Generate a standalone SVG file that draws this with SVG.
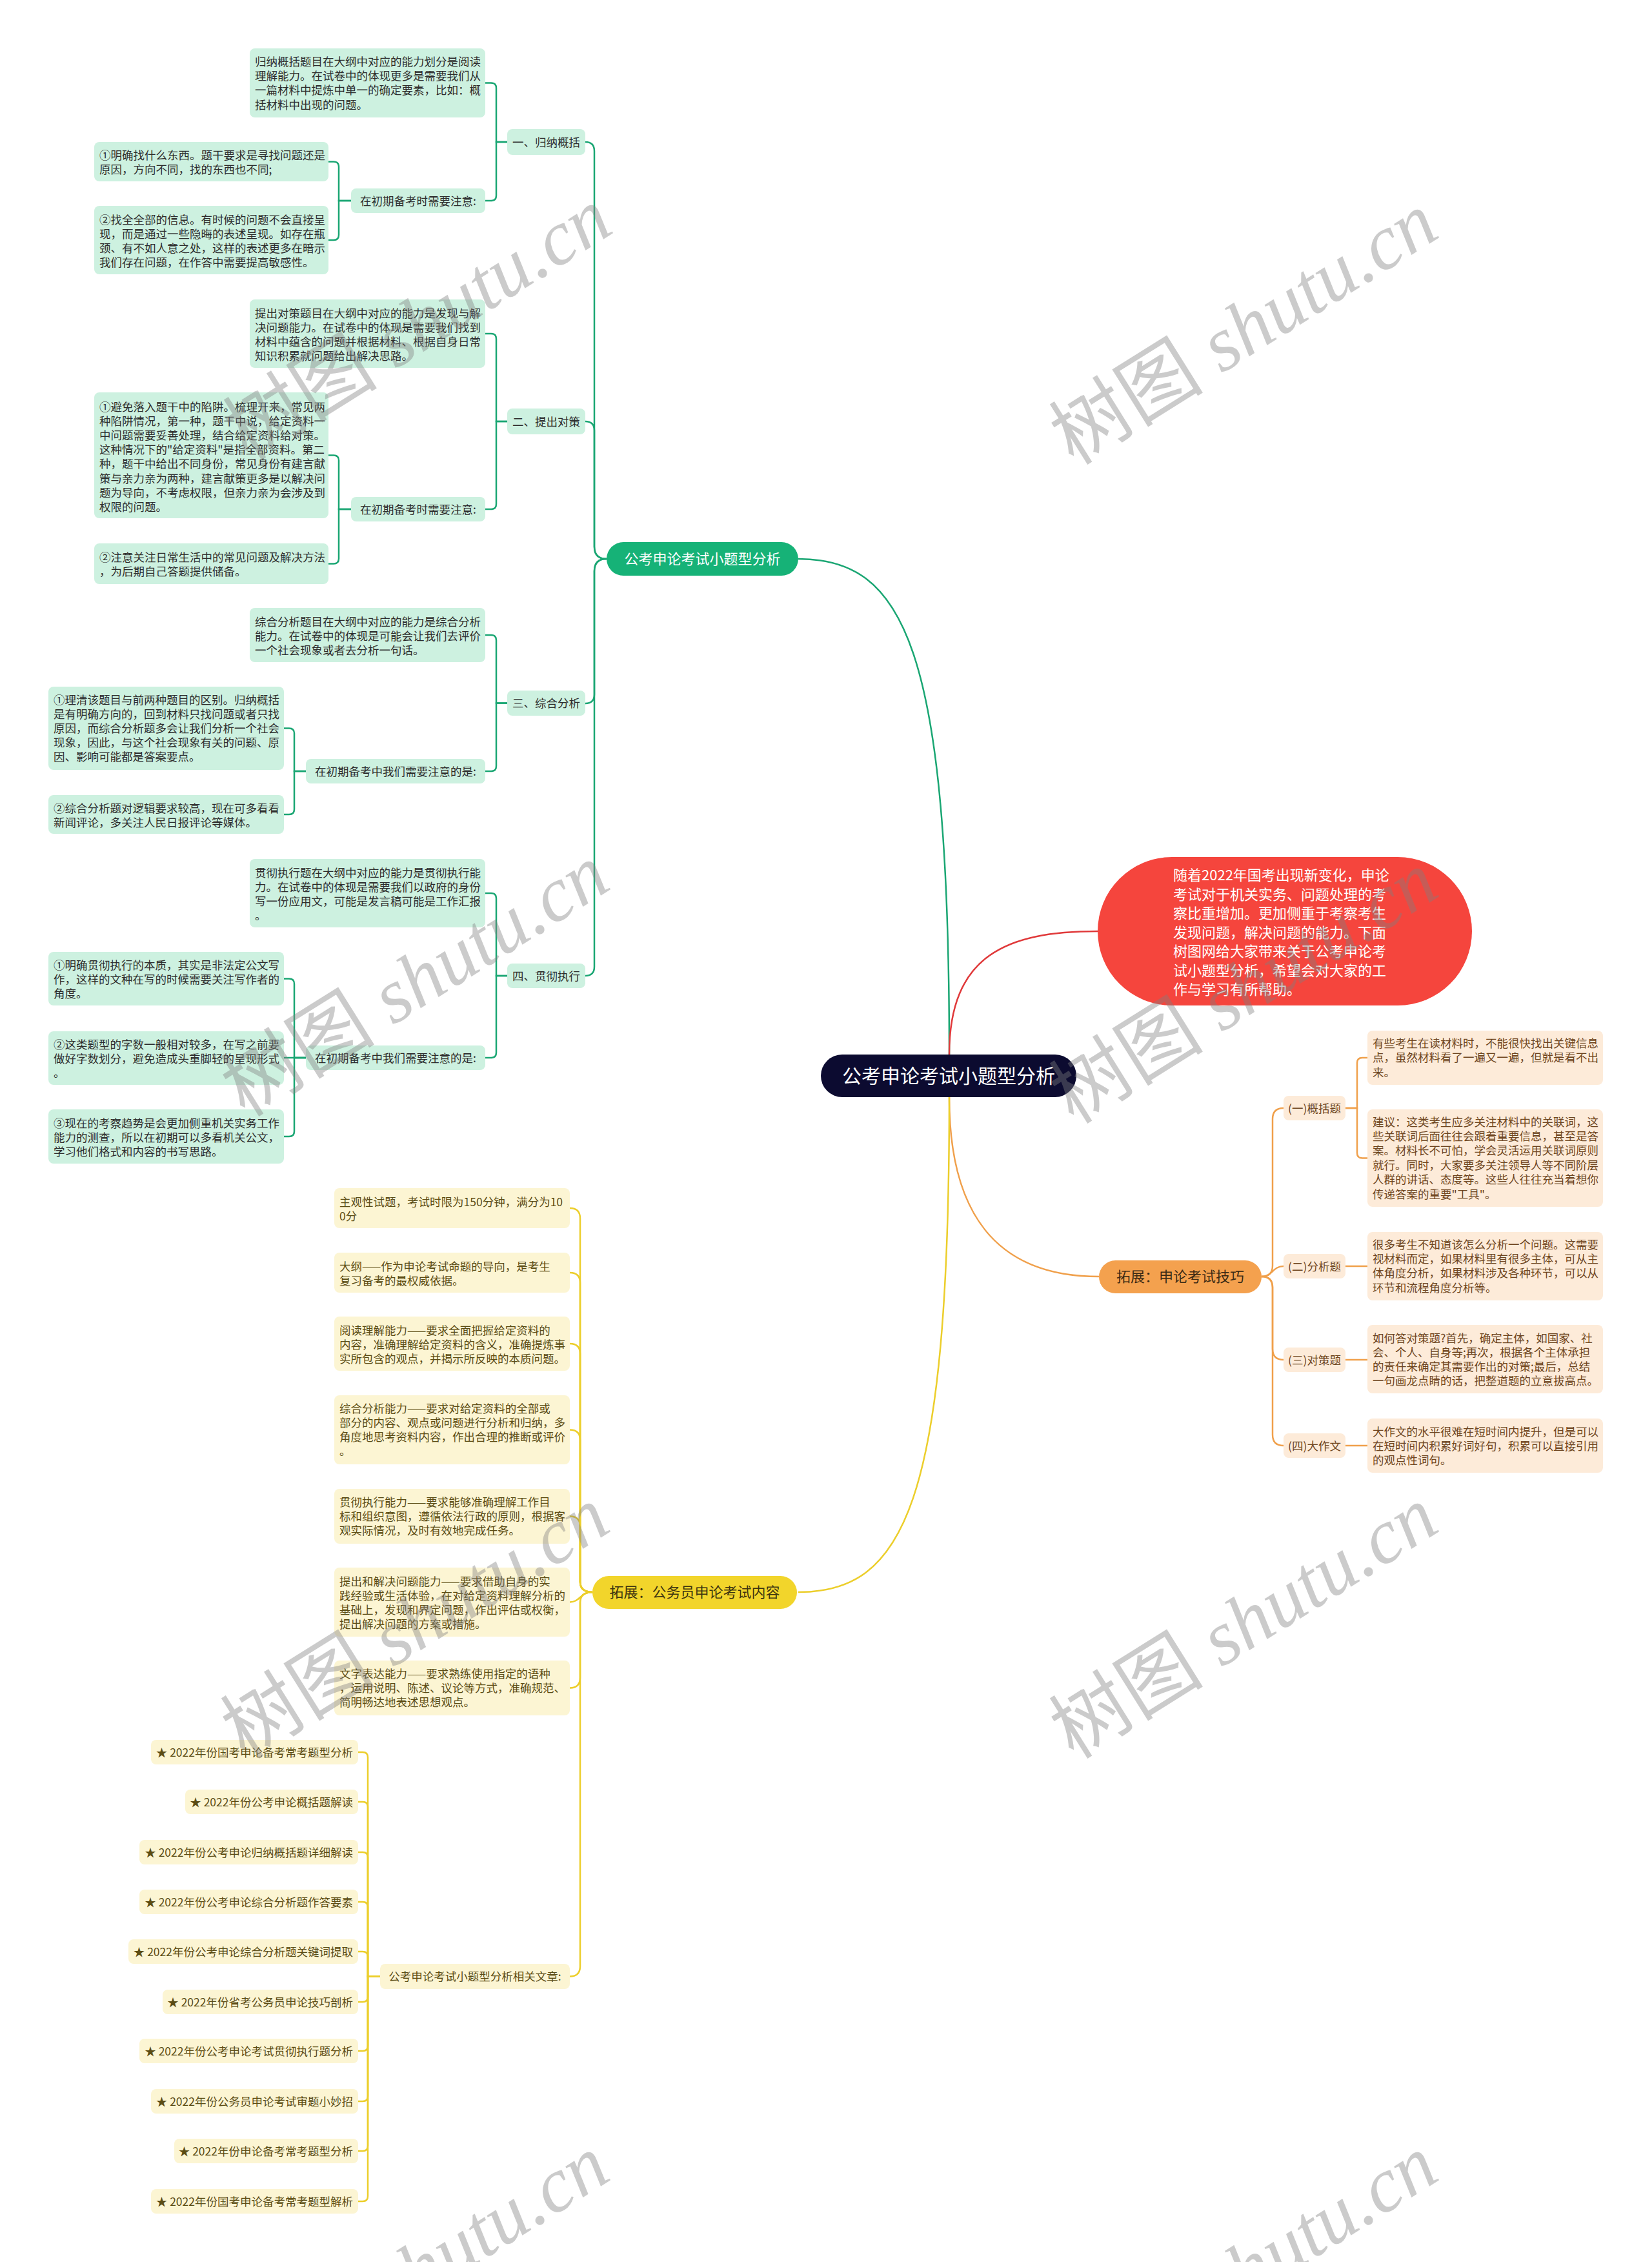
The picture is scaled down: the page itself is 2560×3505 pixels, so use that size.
<svg xmlns="http://www.w3.org/2000/svg" width="2560" height="3505" viewBox="0 0 2560 3505">
<style>
.t{font-family:"Noto Sans CJK SC","Noto Sans",sans-serif;font-size:17.5px}
.tg{fill:#2d2d2d}.to{fill:#6e4520}.ty{fill:#5b4c14}
.c{text-anchor:middle}.e{text-anchor:end}
.bg{fill:#cdf1e0}.bo{fill:#fdebd9}.by{fill:#fcf5d3}
.cg{stroke:#1aa673;stroke-width:2.5;fill:none}
.co{stroke:#f0a04b;stroke-width:2.5;fill:none}
.cy{stroke:#ecce2b;stroke-width:2.5;fill:none}
.cr{stroke:#e0393a;stroke-width:2.5;fill:none}
.big{font-family:"Noto Sans CJK SC","Noto Sans",sans-serif;font-size:22px}
.wm{font-size:120px;fill:#808080;opacity:0.4}
</style>
<rect width="2560" height="3505" fill="#ffffff"/>
<g id="connectors">
<path class="cg" d="M1237,866 C1400,866 1471,1000 1471,1634"/>
<path class="cr" d="M1471,1634 C1471,1480 1560,1443 1701,1443"/>
<path class="co" d="M1471,1700 C1471,1900 1560,1978 1703,1978"/>
<path class="cy" d="M1471,1700 C1471,2333 1400,2467 1237,2467"/>
<path class="cg" d="M940,866 Q921,866 921,847 V234 Q921,220 907,220"/>
<path class="cg" d="M940,866 Q921,866 921,847 V667 Q921,653 907,653"/>
<path class="cg" d="M940,866 Q921,866 921,885 V1076 Q921,1090 907,1090"/>
<path class="cg" d="M940,866 Q921,866 921,885 V1498 Q921,1512 907,1512"/>
<path class="cg" d="M786,220 H769 V136.5 Q769,128.5 761,128.5 H752"/>
<path class="cg" d="M786,220 H769 V303 Q769,311 761,311 H752"/>
<path class="cg" d="M786,653 H769 V525 Q769,517 761,517 H752"/>
<path class="cg" d="M786,653 H769 V781 Q769,789 761,789 H752"/>
<path class="cg" d="M786,1089.5 H769 V992 Q769,984 761,984 H752"/>
<path class="cg" d="M786,1089.5 H769 V1187 Q769,1195 761,1195 H752"/>
<path class="cg" d="M786,1512 H769 V1392 Q769,1384 761,1384 H752"/>
<path class="cg" d="M786,1512 H769 V1631 Q769,1639 761,1639 H752"/>
<path class="cg" d="M544,311 H525 V258.5 Q525,250.5 517,250.5 H509"/>
<path class="cg" d="M544,311 H525 V364 Q525,372 517,372 H509"/>
<path class="cg" d="M544,789 H525 V713.5 Q525,705.5 517,705.5 H509"/>
<path class="cg" d="M544,789 H525 V865.5 Q525,873.5 517,873.5 H509"/>
<path class="cg" d="M474,1195 H456 V1136.5 Q456,1128.5 448,1128.5 H440"/>
<path class="cg" d="M474,1195 H456 V1254 Q456,1262 448,1262 H440"/>
<path class="cg" d="M474,1639 H456 V1524.5 Q456,1516.5 448,1516.5 H440"/>
<path class="cg" d="M474,1639 H440"/>
<path class="cg" d="M474,1639 H456 V1753 Q456,1761 448,1761 H440"/>
<path class="co" d="M1955,1978 Q1972,1978 1972,1961 V1734 Q1972,1717 1989,1717"/>
<path class="co" d="M1955,1978 C1972,1978 1972,1962 1989,1962"/>
<path class="co" d="M1955,1978 Q1972,1978 1972,1995 V2090 Q1972,2107 1989,2107"/>
<path class="co" d="M1955,1978 Q1972,1978 1972,1995 V2223 Q1972,2240 1989,2240"/>
<path class="co" d="M2085,1717 H2103 V1647 Q2103,1639 2111,1639 H2119"/>
<path class="co" d="M2085,1717 H2103 V1786.5 Q2103,1794.5 2111,1794.5 H2119"/>
<path class="co" d="M2085,1962 H2119"/>
<path class="co" d="M2085,2107 H2119"/>
<path class="co" d="M2085,2240 H2119"/>
<path class="cy" d="M918,2467 Q899,2467 899,2451 V1888 Q899,1872 883,1872"/>
<path class="cy" d="M918,2467 Q899,2467 899,2451 V1988 Q899,1972 883,1972"/>
<path class="cy" d="M918,2467 Q899,2467 899,2451 V2098 Q899,2082 883,2082"/>
<path class="cy" d="M918,2467 Q899,2467 899,2451 V2231.5 Q899,2215.5 883,2215.5"/>
<path class="cy" d="M918,2467 Q899,2467 899,2451 V2365.5 Q899,2349.5 883,2349.5"/>
<path class="cy" d="M918,2467 C899,2467 899,2482.5 883,2482.5"/>
<path class="cy" d="M918,2467 Q899,2467 899,2483 V2599.5 Q899,2615.5 883,2615.5"/>
<path class="cy" d="M918,2467 Q899,2467 899,2483 V3046.5 Q899,3062.5 883,3062.5"/>
<path class="cy" d="M589,3062.5 H570 V2723 Q570,2715 562,2715 H555"/>
<path class="cy" d="M589,3062.5 H570 V2800 Q570,2792 562,2792 H555"/>
<path class="cy" d="M589,3062.5 H570 V2878 Q570,2870 562,2870 H555"/>
<path class="cy" d="M589,3062.5 H570 V2955 Q570,2947 562,2947 H555"/>
<path class="cy" d="M589,3062.5 H570 V3032 Q570,3024 562,3024 H555"/>
<path class="cy" d="M589,3062.5 H570 V3094 Q570,3102 562,3102 H555"/>
<path class="cy" d="M589,3062.5 H570 V3170 Q570,3178 562,3178 H555"/>
<path class="cy" d="M589,3062.5 H570 V3248 Q570,3256 562,3256 H555"/>
<path class="cy" d="M589,3062.5 H570 V3325 Q570,3333 562,3333 H555"/>
<path class="cy" d="M589,3062.5 H570 V3403 Q570,3411 562,3411 H555"/>
</g>
<g id="root"><rect x="1272" y="1634" width="396" height="66" rx="33" fill="#0c0b30"/><text class="c" x="1470" y="1678" font-family="Noto Sans CJK SC, Noto Sans, sans-serif" font-size="30" fill="#ffffff">公考申论考试小题型分析</text></g>
<g id="branch-green"><rect x="940" y="840" width="297" height="52" rx="26" fill="#16b277"/><text class="big c" x="1088.5" y="874" fill="#ffffff">公考申论考试小题型分析</text></g>
<g id="branch-red"><rect x="1701" y="1328" width="580" height="230" rx="115" fill="#f5453d"/><text class="big" y="1364" fill="#ffffff"><tspan x="1818">随着2022年国考出现新变化，申论</tspan><tspan x="1818" dy="29.5">考试对于机关实务、问题处理的考</tspan><tspan x="1818" dy="29.5">察比重增加。更加侧重于考察考生</tspan><tspan x="1818" dy="29.5">发现问题，解决问题的能力。下面</tspan><tspan x="1818" dy="29.5">树图网给大家带来关于公考申论考</tspan><tspan x="1818" dy="29.5">试小题型分析，希望会对大家的工</tspan><tspan x="1818" dy="29.5">作与学习有所帮助。</tspan></text></g>
<g id="branch-orange"><rect x="1703" y="1953" width="252" height="51" rx="25.5" fill="#f4a14e"/><text class="big c" x="1829" y="1986" fill="#3b2a14">拓展：申论考试技巧</text></g>
<g id="branch-yellow"><rect x="918" y="2442" width="317" height="51" rx="25.5" fill="#f2d52b"/><text class="big c" x="1076.5" y="2475" fill="#3d3410">拓展：公务员申论考试内容</text></g>

<g id="g1-box"><rect class="bg" x="387" y="75" width="365" height="107" rx="8"/><text class="t tg" y="102"><tspan x="395">归纳概括题目在大纲中对应的能力划分是阅读</tspan><tspan x="395" dy="22.2">理解能力。在试卷中的体现更多是需要我们从</tspan><tspan x="395" dy="22.2">一篇材料中提炼中单一的确定要素，比如：概</tspan><tspan x="395" dy="22.2">括材料中出现的问题。</tspan></text></g>
<g id="g1-node"><rect class="bg" x="786" y="200" width="121" height="40" rx="8"/><text class="t tg c" x="846.5" y="226.6">一、归纳概括</text></g>
<g id="g1-sub"><rect class="bg" x="544" y="292" width="208" height="38" rx="8"/><text class="t tg c" x="648" y="317.6">在初期备考时需要注意:</text></g>
<g id="g1-a"><rect class="bg" x="146" y="220" width="363" height="61" rx="8"/><text class="t tg" y="246.6"><tspan x="154">①明确找什么东西。题干要求是寻找问题还是</tspan><tspan x="154" dy="22.2">原因，方向不同，找的东西也不同;</tspan></text></g>
<g id="g1-b"><rect class="bg" x="146" y="319" width="363" height="106" rx="8"/><text class="t tg" y="346.6"><tspan x="154">②找全全部的信息。有时候的问题不会直接呈</tspan><tspan x="154" dy="22.2">现，而是通过一些隐晦的表述呈现。如存在瓶</tspan><tspan x="154" dy="22.2">颈、有不如人意之处，这样的表述更多在暗示</tspan><tspan x="154" dy="22.2">我们存在问题，在作答中需要提高敏感性。</tspan></text></g>

<g id="g2-box"><rect class="bg" x="387" y="464" width="365" height="106" rx="8"/><text class="t tg" y="491.6"><tspan x="395">提出对策题目在大纲中对应的能力是发现与解</tspan><tspan x="395" dy="22.2">决问题能力。在试卷中的体现是需要我们找到</tspan><tspan x="395" dy="22.2">材料中蕴含的问题并根据材料、根据自身日常</tspan><tspan x="395" dy="22.2">知识积累就问题给出解决思路。</tspan></text></g>
<g id="g2-node"><rect class="bg" x="786" y="633" width="121" height="40" rx="8"/><text class="t tg c" x="846.5" y="659.6">二、提出对策</text></g>
<g id="g2-sub"><rect class="bg" x="544" y="770" width="208" height="38" rx="8"/><text class="t tg c" x="648" y="795.6">在初期备考时需要注意:</text></g>
<g id="g2-a"><rect class="bg" x="146" y="608" width="363" height="195" rx="8"/><text class="t tg" y="636.6"><tspan x="154">①避免落入题干中的陷阱。梳理开来，常见两</tspan><tspan x="154" dy="22.2">种陷阱情况，第一种，题干中说，给定资料一</tspan><tspan x="154" dy="22.2">中问题需要妥善处理，结合给定资料给对策。</tspan><tspan x="154" dy="22.2">这种情况下的"给定资料"是指全部资料。第二</tspan><tspan x="154" dy="22.2">种，题干中给出不同身份，常见身份有建言献</tspan><tspan x="154" dy="22.2">策与亲力亲为两种，建言献策更多是以解决问</tspan><tspan x="154" dy="22.2">题为导向，不考虑权限，但亲力亲为会涉及到</tspan><tspan x="154" dy="22.2">权限的问题。</tspan></text></g>
<g id="g2-b"><rect class="bg" x="146" y="842" width="363" height="63" rx="8"/><text class="t tg" y="869.6"><tspan x="154">②注意关注日常生活中的常见问题及解决方法</tspan><tspan x="154" dy="22.2">，为后期自己答题提供储备。</tspan></text></g>

<g id="g3-box"><rect class="bg" x="387" y="942" width="365" height="84" rx="8"/><text class="t tg" y="969.6"><tspan x="395">综合分析题目在大纲中对应的能力是综合分析</tspan><tspan x="395" dy="22.2">能力。在试卷中的体现是可能会让我们去评价</tspan><tspan x="395" dy="22.2">一个社会现象或者去分析一句话。</tspan></text></g>
<g id="g3-node"><rect class="bg" x="786" y="1070" width="121" height="39" rx="8"/><text class="t tg c" x="846.5" y="1096">三、综合分析</text></g>
<g id="g3-sub"><rect class="bg" x="474" y="1176" width="278" height="38" rx="8"/><text class="t tg c" x="613" y="1201.6">在初期备考中我们需要注意的是:</text></g>
<g id="g3-a"><rect class="bg" x="75" y="1064" width="365" height="129" rx="8"/><text class="t tg" y="1090.6"><tspan x="83">①理清该题目与前两种题目的区别。归纳概括</tspan><tspan x="83" dy="22.2">是有明确方向的，回到材料只找问题或者只找</tspan><tspan x="83" dy="22.2">原因，而综合分析题多会让我们分析一个社会</tspan><tspan x="83" dy="22.2">现象，因此，与这个社会现象有关的问题、原</tspan><tspan x="83" dy="22.2">因、影响可能都是答案要点。</tspan></text></g>
<g id="g3-b"><rect class="bg" x="75" y="1232" width="365" height="60" rx="8"/><text class="t tg" y="1258.6"><tspan x="83">②综合分析题对逻辑要求较高，现在可多看看</tspan><tspan x="83" dy="22.2">新闻评论，多关注人民日报评论等媒体。</tspan></text></g>

<g id="g4-box"><rect class="bg" x="387" y="1331" width="365" height="106" rx="8"/><text class="t tg" y="1358.6"><tspan x="395">贯彻执行题在大纲中对应的能力是贯彻执行能</tspan><tspan x="395" dy="22.2">力。在试卷中的体现是需要我们以政府的身份</tspan><tspan x="395" dy="22.2">写一份应用文，可能是发言稿可能是工作汇报</tspan><tspan x="395" dy="22.2">。</tspan></text></g>
<g id="g4-node"><rect class="bg" x="786" y="1493" width="121" height="38" rx="8"/><text class="t tg c" x="846.5" y="1518.6">四、贯彻执行</text></g>
<g id="g4-sub"><rect class="bg" x="474" y="1620" width="278" height="38" rx="8"/><text class="t tg c" x="613" y="1645.6">在初期备考中我们需要注意的是:</text></g>
<g id="g4-a"><rect class="bg" x="75" y="1475" width="365" height="83" rx="8"/><text class="t tg" y="1501.6"><tspan x="83">①明确贯彻执行的本质，其实是非法定公文写</tspan><tspan x="83" dy="22.2">作，这样的文种在写的时候需要关注写作者的</tspan><tspan x="83" dy="22.2">角度。</tspan></text></g>
<g id="g4-b"><rect class="bg" x="75" y="1598" width="365" height="83" rx="8"/><text class="t tg" y="1624.6"><tspan x="83">②这类题型的字数一般相对较多，在写之前要</tspan><tspan x="83" dy="22.2">做好字数划分，避免造成头重脚轻的呈现形式</tspan><tspan x="83" dy="22.2">。</tspan></text></g>
<g id="g4-c"><rect class="bg" x="75" y="1719" width="365" height="84" rx="8"/><text class="t tg" y="1746.6"><tspan x="83">③现在的考察趋势是会更加侧重机关实务工作</tspan><tspan x="83" dy="22.2">能力的测查，所以在初期可以多看机关公文，</tspan><tspan x="83" dy="22.2">学习他们格式和内容的书写思路。</tspan></text></g>

<g id="o1-node"><rect class="bo" x="1989" y="1698" width="96" height="38" rx="8"/><text class="t to c" x="2037" y="1723.6">(一)概括题</text></g>
<g id="o2-node"><rect class="bo" x="1989" y="1943" width="96" height="38" rx="8"/><text class="t to c" x="2037" y="1968.6">(二)分析题</text></g>
<g id="o3-node"><rect class="bo" x="1989" y="2088" width="96" height="38" rx="8"/><text class="t to c" x="2037" y="2113.6">(三)对策题</text></g>
<g id="o4-node"><rect class="bo" x="1989" y="2221" width="96" height="38" rx="8"/><text class="t to c" x="2037" y="2246.6">(四)大作文</text></g>
<g id="o1-a"><rect class="bo" x="2119" y="1597" width="365" height="84" rx="8"/><text class="t to" y="1622.6"><tspan x="2127">有些考生在读材料时，不能很快找出关键信息</tspan><tspan x="2127" dy="22.6">点，虽然材料看了一遍又一遍，但就是看不出</tspan><tspan x="2127" dy="22.6">来。</tspan></text></g>
<g id="o1-b"><rect class="bo" x="2119" y="1719" width="365" height="151" rx="8"/><text class="t to" y="1744.6"><tspan x="2127">建议：这类考生应多关注材料中的关联词，这</tspan><tspan x="2127" dy="22.4">些关联词后面往往会跟着重要信息，甚至是答</tspan><tspan x="2127" dy="22.4">案。材料长不可怕，学会灵活运用关联词原则</tspan><tspan x="2127" dy="22.4">就行。同时，大家要多关注领导人等不同阶层</tspan><tspan x="2127" dy="22.4">人群的讲话、态度等。这些人往往充当着想你</tspan><tspan x="2127" dy="22.4">传递答案的重要"工具"。</tspan></text></g>
<g id="o2-a"><rect class="bo" x="2119" y="1909" width="365" height="106" rx="8"/><text class="t to" y="1934.6"><tspan x="2127">很多考生不知道该怎么分析一个问题。这需要</tspan><tspan x="2127" dy="22.4">视材料而定，如果材料里有很多主体，可从主</tspan><tspan x="2127" dy="22.4">体角度分析，如果材料涉及各种环节，可以从</tspan><tspan x="2127" dy="22.4">环节和流程角度分析等。</tspan></text></g>
<g id="o3-a"><rect class="bo" x="2119" y="2053" width="365" height="106" rx="8"/><text class="t to" y="2079.6"><tspan x="2127">如何答对策题?首先，确定主体，如国家、社</tspan><tspan x="2127" dy="22.2">会、个人、自身等;再次，根据各个主体承担</tspan><tspan x="2127" dy="22.2">的责任来确定其需要作出的对策;最后，总结</tspan><tspan x="2127" dy="22.2">一句画龙点睛的话，把整道题的立意拔高点。</tspan></text></g>
<g id="o4-a"><rect class="bo" x="2119" y="2198" width="365" height="84" rx="8"/><text class="t to" y="2224.6"><tspan x="2127">大作文的水平很难在短时间内提升，但是可以</tspan><tspan x="2127" dy="22.2">在短时间内积累好词好句，积累可以直接引用</tspan><tspan x="2127" dy="22.2">的观点性词句。</tspan></text></g>

<g id="y1"><rect class="by" x="518" y="1841" width="365" height="62" rx="8"/><text class="t ty" y="1868.6"><tspan x="526">主观性试题，考试时限为150分钟，满分为10</tspan><tspan x="526" dy="22.2">0分</tspan></text></g>
<g id="y2"><rect class="by" x="518" y="1941" width="365" height="62" rx="8"/><text class="t ty" y="1968.6"><tspan x="526">大纲——作为申论考试命题的导向，是考生</tspan><tspan x="526" dy="22.2">复习备考的最权威依据。</tspan></text></g>
<g id="y3"><rect class="by" x="518" y="2040" width="365" height="84" rx="8"/><text class="t ty" y="2067.6"><tspan x="526">阅读理解能力——要求全面把握给定资料的</tspan><tspan x="526" dy="22.2">内容，准确理解给定资料的含义，准确提炼事</tspan><tspan x="526" dy="22.2">实所包含的观点，并揭示所反映的本质问题。</tspan></text></g>
<g id="y4"><rect class="by" x="518" y="2162" width="365" height="107" rx="8"/><text class="t ty" y="2188.6"><tspan x="526">综合分析能力——要求对给定资料的全部或</tspan><tspan x="526" dy="22.2">部分的内容、观点或问题进行分析和归纳，多</tspan><tspan x="526" dy="22.2">角度地思考资料内容，作出合理的推断或评价</tspan><tspan x="526" dy="22.2">。</tspan></text></g>
<g id="y5"><rect class="by" x="518" y="2307" width="365" height="85" rx="8"/><text class="t ty" y="2333.6"><tspan x="526">贯彻执行能力——要求能够准确理解工作目</tspan><tspan x="526" dy="22.2">标和组织意图，遵循依法行政的原则，根据客</tspan><tspan x="526" dy="22.2">观实际情况，及时有效地完成任务。</tspan></text></g>
<g id="y6"><rect class="by" x="518" y="2429" width="365" height="107" rx="8"/><text class="t ty" y="2456.6"><tspan x="526">提出和解决问题能力——要求借助自身的实</tspan><tspan x="526" dy="22.2">践经验或生活体验，在对给定资料理解分析的</tspan><tspan x="526" dy="22.2">基础上，发现和界定问题，作出评估或权衡，</tspan><tspan x="526" dy="22.2">提出解决问题的方案或措施。</tspan></text></g>
<g id="y7"><rect class="by" x="518" y="2573" width="365" height="85" rx="8"/><text class="t ty" y="2599.6"><tspan x="526">文字表达能力——要求熟练使用指定的语种</tspan><tspan x="526" dy="22.2">，运用说明、陈述、议论等方式，准确规范、</tspan><tspan x="526" dy="22.2">简明畅达地表述思想观点。</tspan></text></g>
<g id="y8"><rect class="by" x="589" y="3043" width="294" height="39" rx="8"/><text class="t ty c" x="736" y="3069">公考申论考试小题型分析相关文章:</text></g>

<g id="s1"><rect class="by" x="234" y="2696" width="321" height="38" rx="8"/><text class="t ty e" x="547" y="2721.6">★ 2022年份国考申论备考常考题型分析</text></g>
<g id="s2"><rect class="by" x="287" y="2773" width="268" height="38" rx="8"/><text class="t ty e" x="547" y="2798.6">★ 2022年份公考申论概括题解读</text></g>
<g id="s3"><rect class="by" x="216" y="2851" width="339" height="38" rx="8"/><text class="t ty e" x="547" y="2876.6">★ 2022年份公考申论归纳概括题详细解读</text></g>
<g id="s4"><rect class="by" x="216" y="2928" width="339" height="38" rx="8"/><text class="t ty e" x="547" y="2953.6">★ 2022年份公考申论综合分析题作答要素</text></g>
<g id="s5"><rect class="by" x="199" y="3005" width="356" height="38" rx="8"/><text class="t ty e" x="547" y="3030.6">★ 2022年份公考申论综合分析题关键词提取</text></g>
<g id="s6"><rect class="by" x="252" y="3083" width="303" height="38" rx="8"/><text class="t ty e" x="547" y="3108.6">★ 2022年份省考公务员申论技巧剖析</text></g>
<g id="s7"><rect class="by" x="216" y="3159" width="339" height="38" rx="8"/><text class="t ty e" x="547" y="3184.6">★ 2022年份公考申论考试贯彻执行题分析</text></g>
<g id="s8"><rect class="by" x="234" y="3237" width="321" height="38" rx="8"/><text class="t ty e" x="547" y="3262.6">★ 2022年份公务员申论考试审题小妙招</text></g>
<g id="s9"><rect class="by" x="270" y="3314" width="285" height="38" rx="8"/><text class="t ty e" x="547" y="3339.6">★ 2022年份申论备考常考题型分析</text></g>
<g id="s10"><rect class="by" x="234" y="3392" width="321" height="38" rx="8"/><text class="t ty e" x="547" y="3417.6">★ 2022年份国考申论备考常考题型解析</text></g>

<g id="watermarks" font-family="Liberation Serif, Noto Sans CJK SC, serif">
<text class="wm c" transform="translate(648,503) rotate(-32)" y="40">树图 <tspan font-style="italic">shutu.cn</tspan></text>
<text class="wm c" transform="translate(1928,510) rotate(-32)" y="40">树图 <tspan font-style="italic">shutu.cn</tspan></text>
<text class="wm c" transform="translate(644,1520) rotate(-32)" y="40">树图 <tspan font-style="italic">shutu.cn</tspan></text>
<text class="wm c" transform="translate(1928,1531) rotate(-32)" y="40">树图 <tspan font-style="italic">shutu.cn</tspan></text>
<text class="wm c" transform="translate(644,2515) rotate(-32)" y="40">树图 <tspan font-style="italic">shutu.cn</tspan></text>
<text class="wm c" transform="translate(1928,2515) rotate(-32)" y="40">树图 <tspan font-style="italic">shutu.cn</tspan></text>
<text class="wm c" transform="translate(644,3520) rotate(-32)" y="40">树图 <tspan font-style="italic">shutu.cn</tspan></text>
<text class="wm c" transform="translate(1928,3520) rotate(-32)" y="40">树图 <tspan font-style="italic">shutu.cn</tspan></text>
</g>
</svg>
